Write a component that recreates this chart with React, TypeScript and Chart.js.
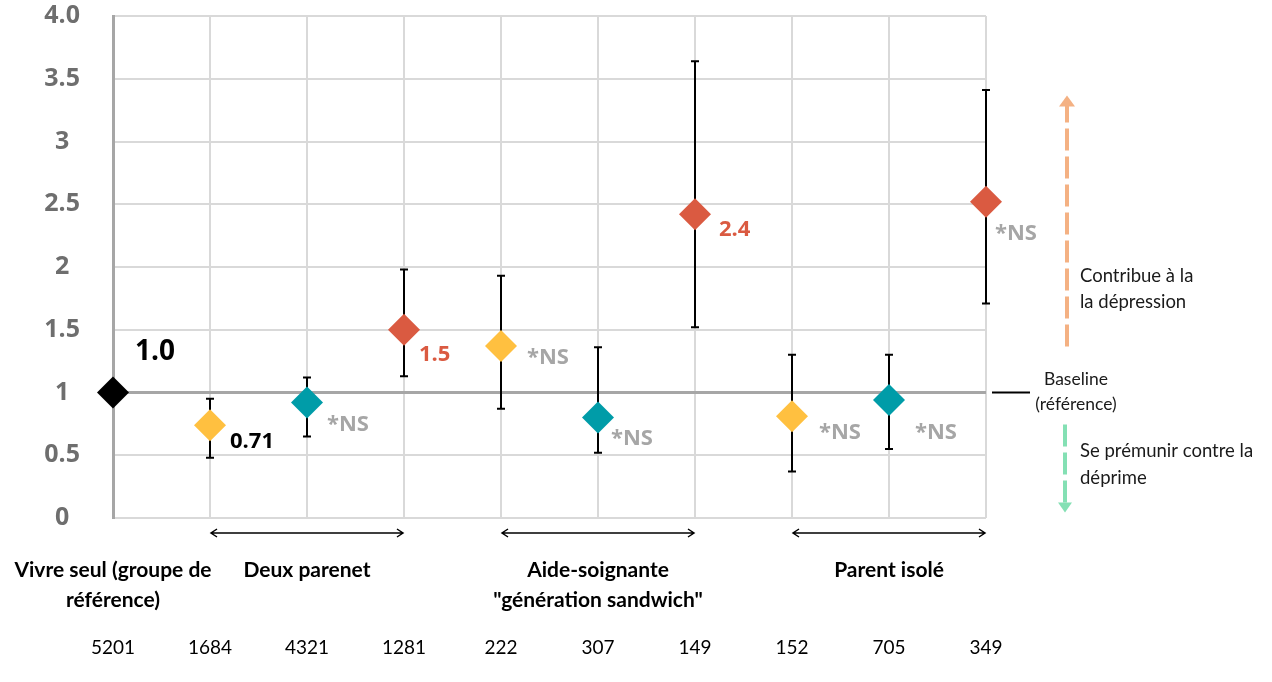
import React, { useEffect, useRef } from 'react';
import { Chart, registerables } from 'chart.js';

Chart.register(...registerables);

// ---- data ----
const sampleSizes = ['5201', '1684', '4321', '1281', '222', '307', '149', '152', '705', '349'];
const oddsRatios = [1.0, 0.74, 0.92, 1.5, 1.37, 0.8, 2.42, 0.81, 0.94, 2.52];
const ciLow: (number | null)[] = [null, 0.48, 0.65, 1.13, 0.87, 0.52, 1.52, 0.37, 0.55, 1.71];
const ciHigh: (number | null)[] = [null, 0.95, 1.12, 1.98, 1.93, 1.36, 3.64, 1.3, 1.3, 3.41];
const pointLabels = ['1.0', '0.71', '*NS', '1.5', '*NS', '*NS', '2.4', '*NS', '*NS', '*NS'];
const yTickLabels = ['0', '0.5', '1', '1.5', '2', '2.5', '3', '3.5', '4.0'];
const groupLabels = [
  ['Vivre seul (groupe de', 'référence)'],
  ['Deux parenet'],
  ['Aide-soignante', '"génération sandwich"'],
  ['Parent isolé'],
];
const groupRanges = [
  [0, 0],
  [1, 3],
  [4, 6],
  [7, 9],
];

// ---- styles ----
const BLACK = '#000000';
const YELLOW = '#FFC040';
const TEAL = '#009CA8';
const RED = '#DA5A41';
const NSGRAY = '#A6A6A6';
const pointColors = [BLACK, YELLOW, TEAL, RED, YELLOW, TEAL, RED, YELLOW, TEAL, RED];
const labelColors = [BLACK, BLACK, NSGRAY, RED, NSGRAY, NSGRAY, RED, NSGRAY, NSGRAY, NSGRAY];
const labelOffsets = [
  [22, -40], [20, 17], [20, 22], [15, 25], [26, 12], [13, 21], [24, 15], [27, 16], [26, 33], [9, 32],
];
const FONT = "'Open Sans', sans-serif";
const FONT2 = "Lato, sans-serif";

const errorBarPlugin = {
  id: 'errorBars',
  beforeDatasetsDraw(chart: any) {
    const meta = chart.getDatasetMeta(0);
    const ys = chart.scales.y;
    const ctx = chart.ctx;
    ctx.save();
    ctx.strokeStyle = '#000';
    ctx.lineWidth = 2;
    meta.data.forEach((pt: any, i: number) => {
      const lo = ciLow[i];
      const hi = ciHigh[i];
      if (lo == null || hi == null) return;
      const yt = ys.getPixelForValue(hi);
      const yb = ys.getPixelForValue(lo);
      ctx.beginPath();
      ctx.moveTo(pt.x, yt);
      ctx.lineTo(pt.x, yb);
      ctx.moveTo(pt.x - 4, yt);
      ctx.lineTo(pt.x + 4, yt);
      ctx.moveTo(pt.x - 4, yb);
      ctx.lineTo(pt.x + 4, yb);
      ctx.stroke();
    });
    ctx.restore();
  },
};

const labelPlugin = {
  id: 'pointLabels',
  afterDatasetsDraw(chart: any) {
    const meta = chart.getDatasetMeta(0);
    const ctx = chart.ctx;
    ctx.save();
    ctx.textAlign = 'left';
    ctx.textBaseline = 'middle';
    meta.data.forEach((pt: any, i: number) => {
      const size = i === 0 ? 28 : 22;
      ctx.font = `bold ${size}px ${FONT}`;
      ctx.fillStyle = labelColors[i];
      ctx.fillText(pointLabels[i], pt.x + labelOffsets[i][0], pt.y + labelOffsets[i][1]);
    });
    ctx.restore();
  },
};

function arrowHead(ctx: any, x: number, y: number, dir: number, w: number, h: number) {
  ctx.beginPath();
  ctx.moveTo(x, y);
  ctx.lineTo(x - w / 2, y - dir * h);
  ctx.lineTo(x + w / 2, y - dir * h);
  ctx.closePath();
  ctx.fill();
}

const annotationPlugin = {
  id: 'annotations',
  afterDraw(chart: any) {
    const { ctx, chartArea } = chart;
    const xs = chart.scales.x;
    const ys = chart.scales.y;
    const b = chartArea.bottom;
    ctx.save();
    // group arrows
    ctx.strokeStyle = '#000';
    ctx.fillStyle = '#000';
    ctx.lineWidth = 1.5;
    groupRanges.forEach(([a, c]) => {
      if (a === c) return;
      const x1 = xs.getPixelForValue(a);
      const x2 = xs.getPixelForValue(c);
      const y = b + 15;
      ctx.beginPath();
      ctx.moveTo(x1 + 1, y);
      ctx.lineTo(x2 - 1, y);
      ctx.moveTo(x1 + 7, y - 4);
      ctx.lineTo(x1 + 1, y);
      ctx.lineTo(x1 + 7, y + 4);
      ctx.moveTo(x2 - 7, y - 4);
      ctx.lineTo(x2 - 1, y);
      ctx.lineTo(x2 - 7, y + 4);
      ctx.stroke();
    });
    // group labels
    ctx.font = `bold 21px ${FONT2}`;
    ctx.textAlign = 'center';
    ctx.textBaseline = 'middle';
    groupRanges.forEach(([a, c], gi) => {
      const xc = (xs.getPixelForValue(a) + xs.getPixelForValue(c)) / 2;
      groupLabels[gi].forEach((line, li) => {
        ctx.fillText(line, xc, b + 52 + li * 30);
      });
    });

    // baseline annotation
    const r = chartArea.right;
    const y1 = ys.getPixelForValue(1);
    ctx.lineWidth = 2;
    ctx.beginPath();
    ctx.moveTo(r + 6, y1);
    ctx.lineTo(r + 44, y1);
    ctx.stroke();
    ctx.font = `17.5px ${FONT2}`;
    ctx.fillStyle = '#1a1a1a';
    ctx.fillText('Baseline', r + 90, y1 - 13);
    ctx.fillText('(référence)', r + 90, y1 + 12);

    ctx.font = `18.5px ${FONT2}`;
    ctx.textAlign = 'left';
    ctx.fillText('Contribue à la', r + 94, y1 - 116);
    ctx.fillText('la dépression', r + 94, y1 - 90);
    ctx.fillText('Se prémunir contre la', r + 94, y1 + 59);
    ctx.fillText('déprime', r + 94, y1 + 86);

    // orange arrow up
    const ox = r + 81;
    ctx.strokeStyle = '#F4B183';
    ctx.fillStyle = '#F4B183';
    ctx.lineWidth = 4;
    ctx.setLineDash([22, 6]);
    ctx.beginPath();
    ctx.moveTo(ox, y1 - 46);
    ctx.lineTo(ox, y1 - 287);
    ctx.stroke();
    ctx.setLineDash([]);
    arrowHead(ctx, ox, y1 - 297, -1, 16, 11);

    // green arrow down
    const gx = r + 79;
    ctx.strokeStyle = '#84E0B4';
    ctx.fillStyle = '#84E0B4';
    ctx.setLineDash([22, 6]);
    ctx.beginPath();
    ctx.moveTo(gx, y1 + 32);
    ctx.lineTo(gx, y1 + 110);
    ctx.stroke();
    ctx.setLineDash([]);
    arrowHead(ctx, gx, y1 + 120, 1, 14, 10);
    ctx.restore();
  },
};

export default function App() {
  const ref = useRef<HTMLCanvasElement | null>(null);
  useEffect(() => {
    if (!ref.current) return;
    const chart = new Chart(ref.current, {
      type: 'line',
      data: {
        labels: sampleSizes,
        datasets: [
          {
            data: oddsRatios,
            showLine: false,
            pointStyle: 'rectRot',
            pointRadius: 16,
            pointHoverRadius: 16,
            pointBorderWidth: 0,
            pointBackgroundColor: pointColors,
            pointBorderColor: pointColors,
          },
        ],
      },
      options: {
        animation: false,
        responsive: true,
        maintainAspectRatio: false,
        layout: { padding: { left: 0, top: 14, right: 286, bottom: 0 } },
        plugins: { legend: { display: false }, tooltip: { enabled: false } },
        scales: {
          x: {
            type: 'category',
            offset: false,
            grid: { color: '#D9D9D9', lineWidth: 2, drawTicks: false },
            border: { display: false },
            ticks: {
              padding: 118,
              color: '#000',
              font: { family: 'Lato', size: 19 },
              maxRotation: 0,
              autoSkip: false,
            },
            afterFit(s: any) {
              s.height = 164;
              s.paddingLeft = 0;
              s.paddingRight = 0;
            },
          },
          y: {
            min: 0,
            max: 4,
            grid: {
              drawTicks: false,
              color: (c: any) => (c.tick && c.tick.value === 1 ? '#A6A6A6' : '#D9D9D9'),
              lineWidth: (c: any) => (c.tick && c.tick.value === 1 ? 3 : 2),
            },
            border: { display: true, color: '#A6A6A6', width: 3 },
            ticks: {
              stepSize: 0.5,
              padding: 33,
              crossAlign: 'center',
              color: '#6E6E6E',
              font: { family: 'Open Sans', size: 25, weight: 'bold' },
              callback: (_v: any, i: number) => yTickLabels[i],
            },
            afterFit(s: any) {
              s.width = 113;
              s.paddingTop = 0;
              s.paddingBottom = 0;
            },
          },
        },
      },
      plugins: [errorBarPlugin, labelPlugin, annotationPlugin],
    } as any);
    return () => chart.destroy();
  }, []);
  return (
    <div style={{ position: 'absolute', left: 0, top: 0, width: 1272, height: 682, background: '#fff' }}>
      <canvas ref={ref} />
    </div>
  );
}
